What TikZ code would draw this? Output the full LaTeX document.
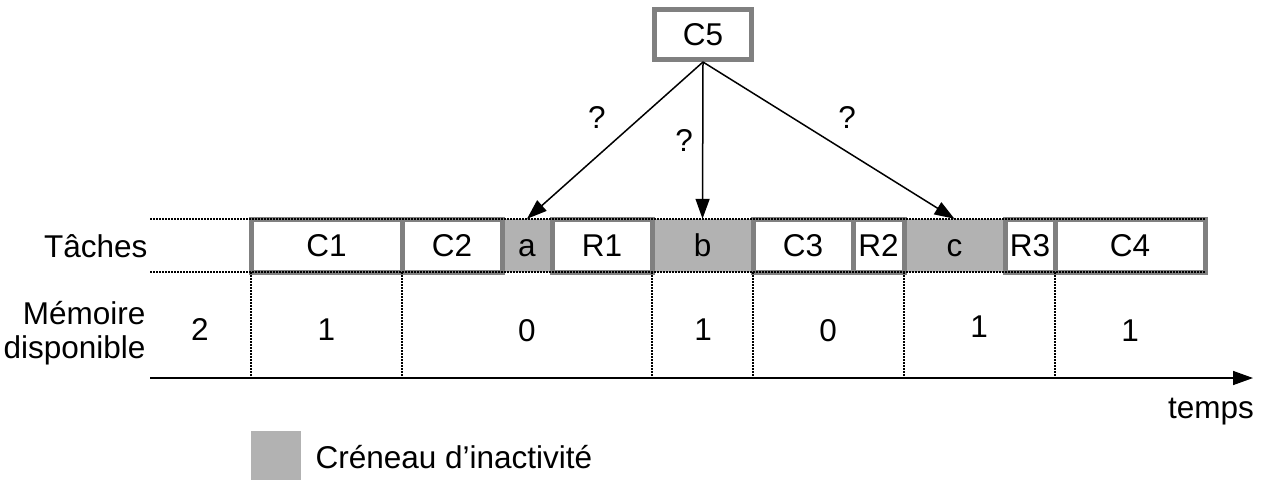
\documentclass[tikz,border=0pt]{standalone}
\usepackage{fontspec}
\setmainfont{Liberation Sans}
\usetikzlibrary{arrows.meta,positioning}

\begin{document}
\begin{tikzpicture}[
    x=1pt, y=-1pt,
    every node/.style={font=\fontsize{31.5}{34}\selectfont},
    task/.style={rectangle, draw=gray, line width=5pt, fill=white, minimum height=53pt, inner sep=0pt, text height=22pt, text depth=0pt},
    idle/.style={rectangle, fill=gray!60, minimum height=53pt, inner sep=0pt, text height=22pt, text depth=0pt},
    guide/.style={line width=1.2pt, dash pattern=on 1.5pt off 1.5pt},
    arrow/.style={-{Triangle[length=20pt,width=14pt]}, line width=1.5pt}
]
    \useasboundingbox (0,0) rectangle (1263,480);

    % Creneaux libres
    \foreach \n/\x/\w in {a/527/50, b/702.5/101, c/954.5/101} {
        \node[idle, minimum width=\w pt] (i\n) at (\x, 245.5) {\n};
    }

    % Taches
    \foreach \n/\lab/\x/\w in {c1/C1/326.5/151, c2/C2/452/100, r1/R1/602/100, c3/C3/803/100,
                               r2/R2/878.5/51, r3/R3/1030/50, c4/C4/1130/150} {
        \node[task, minimum width=\w pt] (\n) at (\x, 245.5) {\lab};
    }

    % Lignes de la rangee des taches
    \draw[guide] (150,219) -- (1205,219);
    \draw[guide] (150,272) -- (1205,272);
    \foreach \x in {251, 402, 652, 753, 904, 1055} {
        \draw[guide] (\x,272) -- (\x,378);
    }

    % Axe du temps
    \coordinate (t0) at (150,378);
    \coordinate (tmax) at (1253,378);
    \draw[arrow] (t0) -- (tmax);
    \node[anchor=base] (temps) at (1211,418) {temps};

    % Etiquettes des lignes
    \node[anchor=base east] (taches) at (151,257) {Tâches};
    \node[anchor=east, align=right] (memoire) at (149,333) {Mémoire\\disponible};

    % Memoire disponible
    \foreach \x/\y/\v [count=\i] in {200/340/2, 326.5/340/1, 527/341/0, 703/340/1,
                                     828/341/0, 979/337/1, 1130/341/1} {
        \node[anchor=base] (m\i) at (\x,\y) {\v};
    }

    % Tache a placer
    \node[task, minimum width=97pt, minimum height=50pt] (c5) at (703,34.5) {C5};
    \draw[arrow] (c5.south) -- (ia.north);
    \draw[arrow] (c5.south) -- (ib.north);
    \draw[arrow] (c5.south) -- (ic.north);
    \node (q1) at (597,117) {?};
    \node (q2) at (684,140) {?};
    \node (q3) at (847,117) {?};

    % Legende
    \node[idle, minimum width=50pt, minimum height=49pt] (key) at (276,455.5) {};
    \node[anchor=base west] (keytext) at (312,468) {Créneau d’inactivité};
\end{tikzpicture}
\end{document}
